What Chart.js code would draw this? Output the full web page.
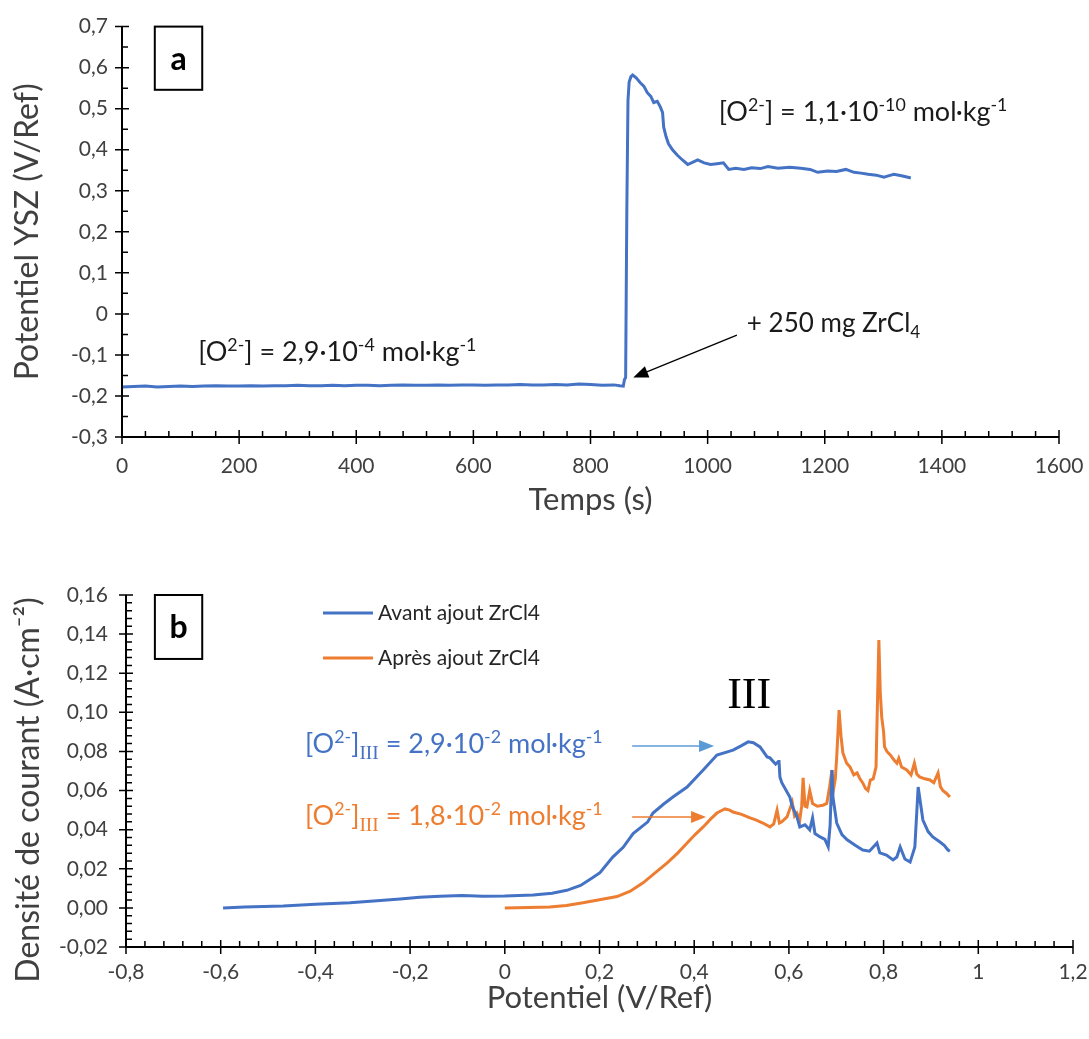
<!DOCTYPE html>
<html>
<head>
<meta charset="utf-8">
<script src="https://cdn.jsdelivr.net/npm/chart.js@4.4.1/dist/chart.umd.min.js"></script>
<style>
  body { margin: 0; background: #fff; }
  #wrap { position: relative; width: 1089px; height: 1039px; }
  canvas { position: absolute; left: 0; }
  #chartA { top: 0; }
  #chartB { top: 520px; }
</style>
</head>
<body>
<div id="wrap">
  <canvas id="chartA" width="1089" height="520"></canvas>
  <canvas id="chartB" width="1089" height="519"></canvas>
</div>
<script>
// (a) potentiel YSZ vs temps
const timeS = [
  0, 20, 40, 60, 80, 100, 120, 140, 160, 180, 200, 220, 240, 260, 280, 300, 320, 340, 360, 380,
  400, 420, 440, 460, 480, 500, 520, 540, 560, 580, 600, 620, 640, 660, 680, 700, 720, 740, 760, 780,
  800, 820, 840, 850, 856, 858, 860, 862, 864, 866, 869, 872, 878, 885, 891, 897, 903, 908, 914, 919,
  923, 925, 929, 933, 940, 948, 957, 966, 975, 983, 994, 1005, 1016, 1027, 1036, 1048, 1062, 1075, 1090, 1103,
  1120, 1140, 1159, 1175, 1188, 1205, 1220, 1236, 1250, 1262, 1274, 1288, 1301, 1310, 1318, 1333, 1347
];
const potentialYSZ = [
  -0.178, -0.177, -0.176, -0.178, -0.177, -0.176, -0.177, -0.176, -0.175, -0.176, -0.176, -0.175, -0.176, -0.175, -0.175, -0.174, -0.175, -0.175, -0.174, -0.175,
  -0.174, -0.174, -0.175, -0.174, -0.173, -0.174, -0.174, -0.173, -0.174, -0.173, -0.173, -0.174, -0.173, -0.173, -0.172, -0.173, -0.173, -0.172, -0.173, -0.171,
  -0.172, -0.174, -0.173, -0.175, -0.176, -0.160, -0.155, 0.250, 0.520, 0.565, 0.578, 0.582, 0.575, 0.563, 0.555, 0.539, 0.530, 0.515, 0.518, 0.505,
  0.491, 0.455, 0.432, 0.415, 0.400, 0.387, 0.375, 0.364, 0.370, 0.375, 0.368, 0.364, 0.366, 0.368, 0.352, 0.355, 0.352, 0.356, 0.354, 0.359,
  0.355, 0.357, 0.355, 0.352, 0.345, 0.348, 0.347, 0.352, 0.345, 0.343, 0.340, 0.338, 0.333, 0.337, 0.340, 0.336, 0.331
];

// (b) densite de courant vs potentiel
const avantPotential = [
  -0.595, -0.55, -0.468, -0.40, -0.327, -0.27, -0.221, -0.18, -0.137, -0.09, -0.046, 0.0, 0.06, 0.10, 0.131, 0.16, 0.186, 0.201, 0.228, 0.25,
  0.271, 0.302, 0.313, 0.335, 0.355, 0.385, 0.419, 0.448, 0.482, 0.50, 0.514, 0.525, 0.539, 0.554, 0.56, 0.572, 0.577, 0.579, 0.581, 0.585,
  0.602, 0.607, 0.617, 0.623, 0.634, 0.644, 0.65, 0.655, 0.666, 0.676, 0.683, 0.687, 0.691, 0.693, 0.701, 0.712, 0.723, 0.74, 0.756, 0.77,
  0.786, 0.792, 0.806, 0.82, 0.828, 0.835, 0.845, 0.856, 0.862, 0.866, 0.873, 0.883, 0.894, 0.904, 0.919, 0.928, 0.936, 0.94
];
const avantCurrent = [
  0.000, 0.0005, 0.001, 0.0018, 0.0026, 0.0036, 0.0046, 0.0055, 0.006, 0.0063, 0.006, 0.0061, 0.0066, 0.0075, 0.009, 0.0115, 0.0155, 0.018, 0.026, 0.031,
  0.038, 0.044, 0.0485, 0.053, 0.0567, 0.0618, 0.0705, 0.0782, 0.0807, 0.083, 0.0849, 0.0845, 0.0823, 0.0772, 0.0767, 0.0735, 0.0746, 0.0756, 0.0669, 0.064,
  0.0567, 0.052, 0.0465, 0.0414, 0.0425, 0.0399, 0.046, 0.038, 0.0363, 0.035, 0.0312, 0.042, 0.0705, 0.0567, 0.0434, 0.0375, 0.0348, 0.032, 0.0296, 0.029,
  0.0332, 0.0281, 0.027, 0.0245, 0.026, 0.0312, 0.025, 0.0235, 0.028, 0.0312, 0.0618, 0.0449, 0.039, 0.0363, 0.0337, 0.032, 0.0296, 0.029
];
const apresPotential = [
  0.0, 0.05, 0.095, 0.13, 0.165, 0.2, 0.237, 0.265, 0.292, 0.318, 0.343, 0.365, 0.385, 0.402, 0.419, 0.435, 0.448, 0.458, 0.465, 0.475,
  0.482, 0.50, 0.518, 0.53, 0.545, 0.56, 0.568, 0.575, 0.58, 0.585, 0.596, 0.607, 0.612, 0.617, 0.623, 0.627, 0.63, 0.634, 0.638, 0.644,
  0.65, 0.66, 0.672, 0.68, 0.686, 0.691, 0.693, 0.698, 0.701, 0.706, 0.71, 0.714, 0.722, 0.729, 0.737, 0.744, 0.75, 0.756, 0.762, 0.767,
  0.772, 0.778, 0.784, 0.79, 0.793, 0.796, 0.80, 0.802, 0.807, 0.815, 0.822, 0.828, 0.832, 0.838, 0.849, 0.858, 0.865, 0.87, 0.876, 0.887,
  0.898, 0.906, 0.915, 0.92, 0.925, 0.933, 0.94
];
const apresCurrent = [
  0.0, 0.0002, 0.0005, 0.0012, 0.0026, 0.0042, 0.0058, 0.0085, 0.0128, 0.018, 0.023, 0.028, 0.0332, 0.0375, 0.0414, 0.0455, 0.0485, 0.0498, 0.0506, 0.050,
  0.049, 0.0478, 0.046, 0.045, 0.0434, 0.0414, 0.043, 0.050, 0.0434, 0.044, 0.0465, 0.054, 0.047, 0.0485, 0.045, 0.052, 0.0665, 0.052, 0.0516, 0.060,
  0.0534, 0.052, 0.0525, 0.0534, 0.062, 0.0705, 0.0588, 0.066, 0.0772, 0.1012, 0.088, 0.0792, 0.074, 0.0721, 0.068, 0.069, 0.066, 0.0639, 0.061, 0.060,
  0.0654, 0.066, 0.072, 0.137, 0.11, 0.0977, 0.09, 0.0823, 0.08, 0.078, 0.0756, 0.074, 0.0765, 0.072, 0.0705, 0.068, 0.074, 0.0685, 0.067, 0.066,
  0.0654, 0.064, 0.069, 0.062, 0.060, 0.0585, 0.0567
];
const seriesNames = ['Avant ajout ZrCl4', 'Après ajout ZrCl4'];

const BLUE = '#4472C4';
const ORANGE = '#ED7D31';
const FONT = "Lato, 'Open Sans', sans-serif";

Chart.defaults.font.family = FONT;
Chart.defaults.color = '#404040';

const toPoints = (xs, ys) => xs.map((x, i) => ({ x, y: ys[i] }));
const comma = (v, d) => {
  const s = Number(v.toFixed(d));
  return (d === 1 ? String(s) : v.toFixed(d)).replace('.', ',');
};
// no padding for first/last tick labels, so the plot area is exactly what the layout says
const noEdgePad = s => { s.paddingLeft = 0; s.paddingRight = 0; };

// superscript / subscript text drawn part by part
function drawRich(ctx, parts, x, y, size, color) {
  let cx = x;
  ctx.fillStyle = color;
  ctx.textBaseline = 'alphabetic';
  ctx.textAlign = 'left';
  parts.forEach(p => {
    const small = p.sup || p.sub;
    const s = small ? size * (p.serif ? 0.72 : 0.66) : size;
    ctx.font = `${s}px ${p.serif ? "'Liberation Serif', serif" : FONT}`;
    const dy = p.sup ? -size * 0.38 : p.sub ? size * 0.22 : 0;
    ctx.fillText(p.t, cx, y + dy);
    cx += ctx.measureText(p.t).width;
  });
}

function drawArrow(ctx, x1, y1, x2, y2, color, width, hl, hw) {
  const a = Math.atan2(y2 - y1, x2 - x1);
  ctx.strokeStyle = color;
  ctx.fillStyle = color;
  ctx.lineWidth = width;
  ctx.beginPath();
  ctx.moveTo(x1, y1);
  ctx.lineTo(x2 - Math.cos(a) * hl * 0.8, y2 - Math.sin(a) * hl * 0.8);
  ctx.stroke();
  ctx.beginPath();
  ctx.moveTo(x2, y2);
  ctx.lineTo(x2 - Math.cos(a) * hl - Math.sin(a) * hw, y2 - Math.sin(a) * hl + Math.cos(a) * hw);
  ctx.lineTo(x2 - Math.cos(a) * hl + Math.sin(a) * hw, y2 - Math.sin(a) * hl - Math.cos(a) * hw);
  ctx.closePath();
  ctx.fill();
}

// axis lines with Excel-like cross ticks and inner minor ticks
const axisTicks = {
  id: 'axisTicks',
  afterDraw(chart, args, opts) {
    const { ctx, chartArea: area, scales: { x, y } } = chart;
    ctx.save();
    ctx.strokeStyle = '#000';
    ctx.lineWidth = 2;
    ctx.beginPath();
    ctx.moveTo(area.left, area.top);
    ctx.lineTo(area.left, area.bottom);
    ctx.lineTo(area.right, area.bottom);
    ctx.stroke();

    ctx.lineWidth = 1.5;
    ctx.beginPath();
    const xt = x.ticks.map(t => t.value);
    xt.forEach((v, i) => {
      const px = x.getPixelForValue(v);
      ctx.moveTo(px, area.bottom - 7);
      ctx.lineTo(px, area.bottom + 7);
      if (i < xt.length - 1) {
        const step = (xt[i + 1] - v) / opts.xMinor;
        for (let k = 1; k < opts.xMinor; k++) {
          const mx = x.getPixelForValue(v + k * step);
          ctx.moveTo(mx, area.bottom);
          ctx.lineTo(mx, area.bottom - 6);
        }
      }
    });
    const yt = y.ticks.map(t => t.value);
    yt.forEach((v, i) => {
      const py = y.getPixelForValue(v);
      ctx.moveTo(area.left - 7, py);
      ctx.lineTo(area.left + 7, py);
      if (i < yt.length - 1) {
        const step = (yt[i + 1] - v) / opts.yMinor;
        for (let k = 1; k < opts.yMinor; k++) {
          const my = y.getPixelForValue(v + k * step);
          ctx.moveTo(area.left, my);
          ctx.lineTo(area.left + 6, my);
        }
      }
    });
    ctx.stroke();
    ctx.restore();
  }
};

// labels, arrows, panel letters and legend placed in data coordinates
const notes = {
  id: 'notes',
  afterDraw(chart, args, opts) {
    const { ctx, scales: { x, y } } = chart;
    ctx.save();
    (opts.items || []).forEach(it => {
      if (it.type === 'text') {
        drawRich(ctx, it.parts, x.getPixelForValue(it.x), y.getPixelForValue(it.y), it.size, it.color);
      } else if (it.type === 'center') {
        ctx.fillStyle = it.color;
        ctx.font = it.font;
        ctx.textAlign = 'center';
        ctx.textBaseline = 'middle';
        ctx.fillText(it.text, x.getPixelForValue(it.x), y.getPixelForValue(it.y));
      } else if (it.type === 'arrow') {
        drawArrow(ctx, x.getPixelForValue(it.x1), y.getPixelForValue(it.y1),
          x.getPixelForValue(it.x2), y.getPixelForValue(it.y2), it.color, it.width, it.hl, it.hw);
      } else if (it.type === 'box') {
        const x1 = x.getPixelForValue(it.x1), x2 = x.getPixelForValue(it.x2);
        const y1 = y.getPixelForValue(it.y1), y2 = y.getPixelForValue(it.y2);
        ctx.fillStyle = '#fff';
        ctx.fillRect(x1, y1, x2 - x1, y2 - y1);
        ctx.strokeStyle = '#000';
        ctx.lineWidth = 2;
        ctx.strokeRect(x1, y1, x2 - x1, y2 - y1);
        ctx.fillStyle = '#000';
        ctx.font = `bold 32px ${FONT}`;
        ctx.textAlign = 'center';
        ctx.textBaseline = 'middle';
        ctx.fillText(it.label, (x1 + x2) / 2, (y1 + y2) / 2 + 1);
      } else if (it.type === 'legend') {
        const lx = x.getPixelForValue(it.x);
        let ly = y.getPixelForValue(it.y);
        chart.data.datasets.forEach(ds => {
          ctx.strokeStyle = ds.borderColor;
          ctx.lineWidth = 3;
          ctx.beginPath();
          ctx.moveTo(lx, ly);
          ctx.lineTo(lx + 50, ly);
          ctx.stroke();
          ctx.fillStyle = '#262626';
          ctx.font = `21px ${FONT}`;
          ctx.textAlign = 'left';
          ctx.textBaseline = 'middle';
          ctx.fillText(ds.label, lx + 55, ly);
          ly += it.gap;
        });
      } else if (it.type === 'vtitle') {
        ctx.save();
        ctx.translate(it.px, y.getPixelForValue(it.y));
        ctx.rotate(-Math.PI / 2);
        ctx.fillStyle = '#404040';
        ctx.font = it.font;
        ctx.textAlign = 'center';
        ctx.textBaseline = 'middle';
        ctx.fillText(it.text, 0, 0);
        ctx.restore();
      }
    });
    ctx.restore();
  }
};

const lineStyle = { showLine: true, pointRadius: 0, borderWidth: 3, tension: 0, fill: false };

new Chart(document.getElementById('chartA'), {
  type: 'scatter',
  data: {
    datasets: [{ label: 'YSZ', data: toPoints(timeS, potentialYSZ), borderColor: BLUE, ...lineStyle }]
  },
  options: {
    responsive: false,
    animation: false,
    layout: { padding: { top: 15, right: 30, left: 0, bottom: 0 } },
    scales: {
      x: {
        type: 'linear', min: 0, max: 1600,
        grid: { display: false, drawTicks: false },
        border: { display: false },
        ticks: { stepSize: 200, padding: 17, font: { size: 21 }, callback: v => String(v) },
        title: { display: true, text: 'Temps (s)', font: { size: 31 }, padding: { top: 0, bottom: 1 } },
        afterFit: s => { noEdgePad(s); s.height = 83; }
      },
      y: {
        min: -0.3, max: 0.7,
        grid: { display: false, drawTicks: false },
        border: { display: false },
        ticks: { stepSize: 0.1, padding: 14, font: { size: 21 }, callback: v => comma(v, 1) },
        title: { display: true, text: 'Potentiel YSZ (V/Ref)', font: { size: 32 }, padding: { top: 8, bottom: 0 } },
        afterFit: s => { s.width = 122; }
      }
    },
    plugins: {
      legend: { display: false },
      tooltip: { enabled: false },
      axisTicks: { xMinor: 5, yMinor: 2 },
      notes: {
        items: [
          { type: 'box', x1: 56, x2: 137, y1: 0.7, y2: 0.546, label: 'a' },
          { type: 'text', x: 1019, y: 0.47, size: 27, color: '#1a1a1a',
            parts: [{ t: '[O' }, { t: '2-', sup: true }, { t: '] = 1,1·10' }, { t: '-10', sup: true }, { t: ' mol·kg' }, { t: '-1', sup: true }] },
          { type: 'text', x: 130, y: -0.115, size: 27, color: '#1a1a1a',
            parts: [{ t: '[O' }, { t: '2-', sup: true }, { t: '] = 2,9·10' }, { t: '-4', sup: true }, { t: ' mol·kg' }, { t: '-1', sup: true }] },
          { type: 'text', x: 1067, y: -0.045, size: 26, color: '#1a1a1a',
            parts: [{ t: '+ 250 mg ZrCl' }, { t: '4', sub: true }] },
          { type: 'arrow', x1: 1050, y1: -0.052, x2: 873, y2: -0.155, color: '#000', width: 1.3, hl: 15, hw: 6 }
        ]
      }
    }
  },
  plugins: [axisTicks, notes]
});

new Chart(document.getElementById('chartB'), {
  type: 'scatter',
  data: {
    datasets: [
      { label: seriesNames[0], data: toPoints(avantPotential, avantCurrent), borderColor: BLUE, ...lineStyle },
      { label: seriesNames[1], data: toPoints(apresPotential, apresCurrent), borderColor: ORANGE, ...lineStyle }
    ]
  },
  options: {
    responsive: false,
    animation: false,
    layout: { padding: { top: 75, right: 16, left: 0, bottom: 0 } },
    scales: {
      x: {
        type: 'linear', min: -0.8, max: 1.2,
        grid: { display: false, drawTicks: false },
        border: { display: false },
        ticks: { stepSize: 0.2, padding: 13, font: { size: 21 }, callback: v => comma(v, 1) },
        title: { display: true, text: 'Potentiel (V/Ref)', font: { size: 31 }, padding: { top: 0, bottom: 22 } },
        afterFit: s => { noEdgePad(s); s.height = 92; }
      },
      y: {
        min: -0.02, max: 0.16,
        grid: { display: false, drawTicks: false },
        border: { display: false },
        ticks: { stepSize: 0.02, padding: 18, font: { size: 21 }, callback: v => comma(v, 2) },
        afterFit: s => { s.width = 126; }
      }
    },
    plugins: {
      legend: { display: false },
      tooltip: { enabled: false },
      axisTicks: { xMinor: 5, yMinor: 5 },
      notes: {
        items: [
          { type: 'vtitle', px: 28.5, y: 0.0603, text: 'Densité de courant (A·cm⁻²)', font: `32px ${FONT}` },
          { type: 'box', x1: -0.739, x2: -0.639, y1: 0.16, y2: 0.1273, label: 'b' },
          { type: 'legend', x: -0.384, y: 0.1508, gap: 45 },
          { type: 'center', x: 0.516, y: 0.1079, text: 'III', font: "44px 'Liberation Serif', serif", color: '#000' },
          { type: 'text', x: -0.422, y: 0.0792, size: 27, color: BLUE,
            parts: [{ t: '[O' }, { t: '2-', sup: true }, { t: ']' }, { t: 'III', sub: true, serif: true }, { t: ' = 2,9·10' }, { t: '-2', sup: true }, { t: ' mol·kg' }, { t: '-1', sup: true }] },
          { type: 'text', x: -0.422, y: 0.0425, size: 27, color: ORANGE,
            parts: [{ t: '[O' }, { t: '2-', sup: true }, { t: ']' }, { t: 'III', sub: true, serif: true }, { t: ' = 1,8·10' }, { t: '-2', sup: true }, { t: ' mol·kg' }, { t: '-1', sup: true }] },
          { type: 'arrow', x1: 0.269, y1: 0.0828, x2: 0.442, y2: 0.0828, color: '#5B9BD5', width: 1.5, hl: 15, hw: 6 },
          { type: 'arrow', x1: 0.269, y1: 0.0465, x2: 0.425, y2: 0.0465, color: ORANGE, width: 1.5, hl: 15, hw: 6 }
        ]
      }
    }
  },
  plugins: [axisTicks, notes]
});
</script>
</body>
</html>
